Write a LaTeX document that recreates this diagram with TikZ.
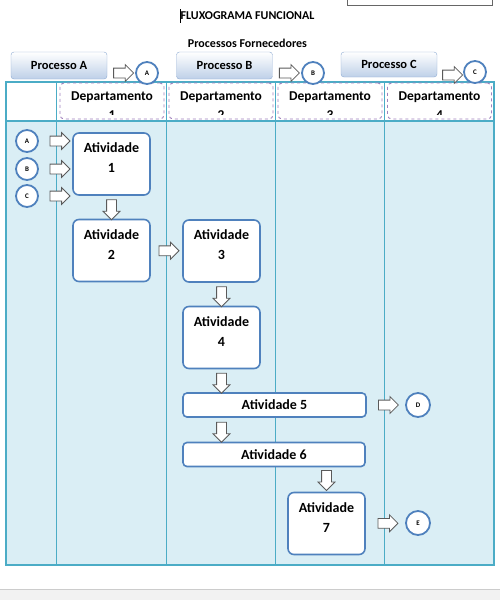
\documentclass[tikz,border=0pt]{standalone}
\usepackage{fontspec}
\setmainfont{Carlito}
\usetikzlibrary{shapes.arrows}
\definecolor{boxblue}{RGB}{79,129,189}
\definecolor{tableline}{RGB}{75,172,198}
\definecolor{bodyblue}{RGB}{218,238,245}
\definecolor{deptpurple}{RGB}{160,130,190}
\definecolor{arrowgray}{RGB}{90,90,90}
\definecolor{procborder}{RGB}{141,170,210}
\definecolor{procfill}{RGB}{190,208,232}
\tikzset{
  actbox/.style={draw=boxblue, line width=1.6pt, rounded corners=6pt, fill=white, minimum width=77pt, minimum height=62pt, inner sep=0pt},
  acttext/.style={font=\fontsize{14}{20}\selectfont\bfseries, align=center},
  longbox/.style={actbox, rounded corners=4pt, minimum height=24pt, font=\fontsize{14}{16}\selectfont\bfseries},
  deptbox/.style={draw=deptpurple, dashed, line width=0.9pt, rounded corners=4pt, fill=white, minimum width=104pt, minimum height=36pt},
  depttext/.style={font=\fontsize{13.5}{19}\selectfont\bfseries, align=center},
  procbox/.style={draw=procborder, rounded corners=3pt, top color=white, bottom color=procfill, minimum width=96pt, minimum height=27pt, font=\fontsize{12.5}{14}\selectfont\bfseries},
  circ/.style={circle, draw=boxblue, line width=1.8pt, fill=white, minimum size=22pt, inner sep=0pt, font=\fontsize{7}{8}\selectfont\bfseries},
  blockarrow/.style={single arrow, draw=arrowgray, fill=white, line width=0.8pt, minimum height=20pt, inner sep=4.5pt, single arrow head extend=3.5pt},
  rarrow/.style={blockarrow},
  darrow/.style={blockarrow, shape border rotate=270}
}
\begin{document}
\begin{tikzpicture}[x=1pt, y=-1pt]
\useasboundingbox (0,0) rectangle (500,600);
% page
\fill[gray!10] (0,589) rectangle (500,600);
\draw[gray!40] (0,589) -- (500,589);
\draw[gray!80!black, line width=0.6pt] (347,-5) rectangle (492,5);

% titles
\node[font=\fontsize{12}{14}\selectfont\bfseries] (title) at (247.5,16) {FLUXOGRAMA FUNCIONAL};
\draw[line width=0.6pt] (180,9) -- (180,23);
\node[font=\fontsize{12}{14}\selectfont\bfseries] (subtitle) at (247.5,43) {Processos Fornecedores};

% table
\fill[bodyblue] (6,121) rectangle (494,565);
\draw[tableline, line width=1.2pt] (6,82) rectangle (494,565);
\draw[tableline, line width=1.2pt] (6,121) -- (494,121);
\foreach \x in {56,166,275,384}
  \draw[tableline, line width=1pt] (\x,82) -- (\x,565);

% departamentos
\foreach \i/\x in {1/112,2/221,3/330,4/439.5}{
  \node[deptbox] (dep\i) at (\x,101) {};
  \begin{scope}
    \clip ([yshift=5pt]dep\i.south west) rectangle (dep\i.north east);
    \node[depttext] (deplabel\i) at ([yshift=-4.5pt]dep\i.center) {Departamento\\\i};
  \end{scope}
}

% processos fornecedores
\node[procbox] (procA) at (59,65.5) {Processo A};
\node[procbox] (procB) at (224.5,65.5) {Processo B};
\node[procbox, minimum height=25pt] (procC) at (389,64.5) {Processo C};
\node[circ] (cA) at (147,73) {A};
\node[circ] (cB) at (313,73) {B};
\node[circ] (cC) at (475,72) {C};
\path (procA.east |- cA) -- (cA) node[midway, rarrow] {};
\path (procB.east |- cB) -- (cB) node[midway, rarrow] {};
\path ([yshift=-3pt]procC.east |- cC) -- ([yshift=-3pt]cC.west) node[midway, rarrow] {};

% atividades
\node[actbox, label={[acttext, yshift=6pt]center:Atividade\\1}] (act1) at (111.5,164) {};
\node[actbox, label={[acttext, yshift=6pt]center:Atividade\\2}] (act2) at (111.5,250.5) {};
\node[actbox, label={[acttext, yshift=6pt]center:Atividade\\3}] (act3) at (221.5,251) {};
\node[actbox, label={[acttext, yshift=6pt]center:Atividade\\4}] (act4) at (221.5,337.5) {};
\node[longbox, minimum width=183pt] (act5) at (274.5,405) {Atividade 5};
\node[longbox, minimum width=182pt] (act6) at (274,454.5) {Atividade 6};
\node[actbox, label={[acttext, yshift=6pt]center:Atividade\\7}] (act7) at (326.5,523.5) {};

% entradas e saidas
\node[circ] (inA) at (27,141) {A};
\node[circ] (inB) at (27,169) {B};
\node[circ] (inC) at (27,196) {C};
\node[circ, minimum size=24pt] (outD) at (418,405) {D};
\node[circ, minimum size=24pt] (outE) at (418,523) {E};
\foreach \c in {inA,inB,inC}
  \path (\c.east) -- (\c -| act1.west) node[midway, xshift=2pt, rarrow] {};

% fluxo
\path (act1) -- (act2) node[midway, darrow] {};
\path (act2) -- (act3) node[midway, rarrow] {};
\path (act3) -- (act4) node[midway, darrow] {};
\path (act4) -- (act4 |- act5.north) node[midway, darrow] {};
\path (act4 |- act5.south) -- (act4 |- act6.north) node[midway, darrow] {};
\path (act7 |- act6.south) -- (act7.north) node[midway, yshift=1.5pt, darrow] {};
\path (act5.east) -- (outD) node[midway, rarrow] {};
\path (act7.east) -- (outE) node[midway, rarrow] {};
\end{tikzpicture}
\end{document}
